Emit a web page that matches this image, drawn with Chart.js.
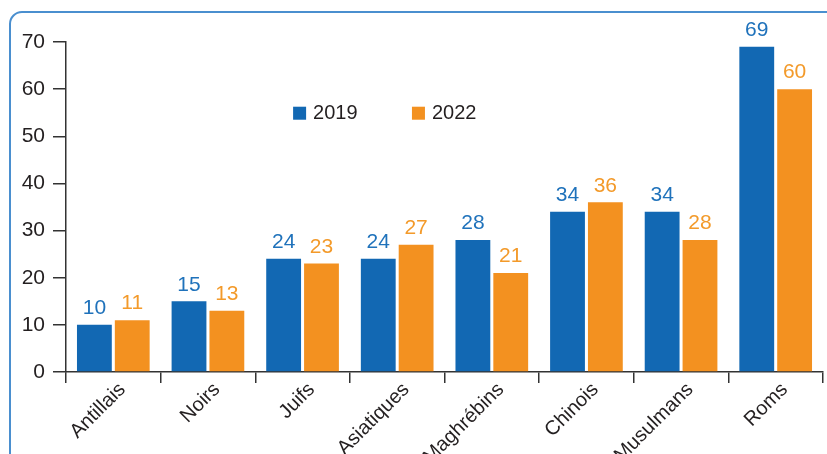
<!DOCTYPE html>
<html>
<head>
<meta charset="utf-8">
<script src="https://cdn.jsdelivr.net/npm/chart.js@4"></script>
<style>
  html, body { margin: 0; padding: 0; background: #fff; }
  #wrap { width: 827px; height: 454px; position: relative; }
</style>
</head>
<body>
<div id="wrap"><canvas id="Chart"></canvas></div>
<script>
const categories = ["Antillais", "Noirs", "Juifs", "Asiatiques", "Maghrébins", "Chinois", "Musulmans", "Roms"];
const values2019 = [10, 15, 24, 24, 28, 34, 34, 69];
const values2022 = [11, 13, 23, 27, 21, 36, 28, 60];
const seriesNames = ["2019", "2022"];
const yTicks = [0, 10, 20, 30, 40, 50, 60, 70];

const BLUE = "#1268b3";
const ORANGE = "#f39120";
const LABEL_BLUE = "#1f72bb";
const LABEL_ORANGE = "#f39a2a";
const AXIS = "#333333";
const FONT = "'Liberation Sans', Arial, sans-serif";

Chart.defaults.font.family = FONT;
Chart.defaults.color = "#231f20";

// frame around the chart (only top and left edges are visible)
const framePlugin = {
  id: "frame",
  beforeDraw(chart) {
    const c = chart.ctx;
    c.save();
    c.strokeStyle = "#4a8fcf";
    c.lineWidth = 2;
    c.beginPath();
    c.roundRect(10, 12, 900, 600, 12);
    c.stroke();
    c.restore();
  },
};

// values above the bars
const valueLabels = {
  id: "valueLabels",
  afterDatasetsDraw(chart) {
    const c = chart.ctx;
    c.save();
    c.font = "21px " + FONT;
    c.textAlign = "center";
    c.textBaseline = "bottom";
    chart.data.datasets.forEach((ds, i) => {
      const meta = chart.getDatasetMeta(i);
      c.fillStyle = i === 0 ? LABEL_BLUE : LABEL_ORANGE;
      meta.data.forEach((bar, j) => {
        c.fillText(ds.data[j], bar.x, bar.y - 6);
      });
    });
    c.restore();
  },
};

// legend inside the plot area
const innerLegend = {
  id: "innerLegend",
  afterDraw(chart) {
    const c = chart.ctx;
    const a = chart.chartArea;
    const y = chart.scales.y.getPixelForValue(55);
    const xs = [a.left + (a.right - a.left) * 0.30, a.left + (a.right - a.left) * 0.457];
    c.save();
    c.font = "20px " + FONT;
    c.textBaseline = "middle";
    c.textAlign = "left";
    chart.data.datasets.forEach((ds, i) => {
      c.fillStyle = ds.backgroundColor;
      c.fillRect(xs[i], y - 6, 13, 13);
      c.fillStyle = "#231f20";
      c.fillText(ds.label, xs[i] + 20, y + 1);
    });
    c.restore();
  },
};

new Chart(document.getElementById("Chart"), {
  type: "bar",
  data: {
    labels: categories,
    datasets: [
      { label: seriesNames[0], data: values2019, backgroundColor: BLUE },
      { label: seriesNames[1], data: values2022, backgroundColor: ORANGE },
    ],
  },
  options: {
    responsive: true,
    maintainAspectRatio: false,
    animation: false,
    layout: { padding: { left: 0, top: 42, right: 4, bottom: 0 } },
    datasets: {
      bar: { barPercentage: 0.92, categoryPercentage: 0.8 },
    },
    plugins: {
      legend: { display: false },
      tooltip: { enabled: false },
    },
    scales: {
      x: {
        offset: true,
        grid: {
          offset: true,
          drawOnChartArea: false,
          drawTicks: true,
          tickLength: 11,
          color: AXIS,
          lineWidth: 1.5,
        },
        border: { color: AXIS, width: 1.5 },
        ticks: {
          color: "#231f20",
          font: { size: 20 },
          maxRotation: 45,
          minRotation: 45,
          padding: -5,
          labelOffset: 9,
        },
        afterFit(scale) { scale.height = 82; },
      },
      y: {
        min: 0,
        max: 70,
        afterBuildTicks(scale) { scale.ticks = yTicks.map((v) => ({ value: v })); },
        grid: {
          drawOnChartArea: false,
          drawTicks: true,
          tickLength: 13,
          color: AXIS,
          lineWidth: 1.5,
        },
        border: { color: AXIS, width: 1.5 },
        ticks: {
          color: "#231f20",
          font: { size: 21 },
          padding: 8,
        },
        afterFit(scale) { scale.width = 66; },
      },
    },
  },
  plugins: [framePlugin, valueLabels, innerLegend],
});
</script>
</body>
</html>
